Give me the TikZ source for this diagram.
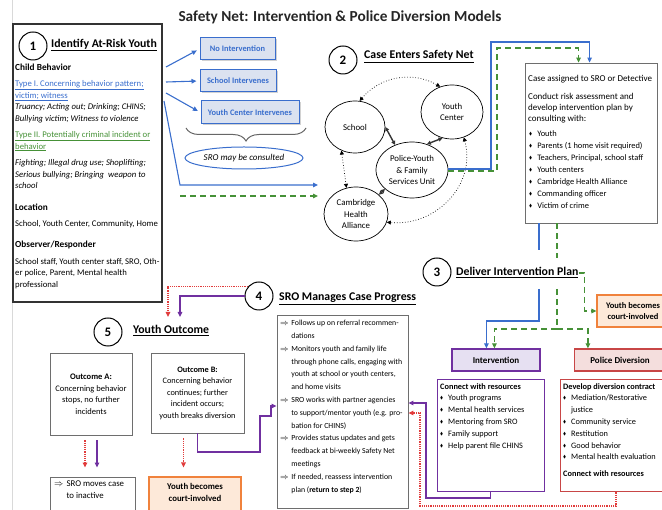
\documentclass[tikz,border=0pt]{standalone}
\usepackage{fontspec}
\setmainfont{Carlito}
\usepackage{amssymb}
\usetikzlibrary{arrows.meta,calc,shapes.geometric,shadows,decorations.pathreplacing}

\definecolor{netblue}{RGB}{58,110,205}
\definecolor{netgreen}{RGB}{70,145,55}
\definecolor{netpurple}{RGB}{112,48,160}
\definecolor{netred}{RGB}{200,70,70}
\definecolor{dotred}{RGB}{225,60,60}
\definecolor{netorange}{RGB}{240,130,60}
\definecolor{peach}{RGB}{253,233,217}
\definecolor{lilac}{RGB}{230,224,242}
\definecolor{rose}{RGB}{244,222,221}
\definecolor{paleblue}{RGB}{219,226,240}
\definecolor{framegray}{RGB}{110,110,110}

\newcommand{\dia}{\raisebox{0.25ex}{\scalebox{0.55}{$\blacklozenge$}}\hspace{0.6em}}
\newcommand{\imp}{$\Rightarrow$\hspace{0.35em}}
\newcommand{\ind}{\hphantom{\imp}}

\tikzset{
  numcirc/.style={circle, draw, line width=1pt, minimum size=28, inner sep=0, font=\fontsize{13}{13}\selectfont\bfseries},
  headline/.style={anchor=west, inner sep=0, font=\fontsize{11.8}{13}\selectfont\bfseries},
  panel/.style={draw=framegray, line width=0.8pt, inner sep=0},
  bodytext/.style={anchor=north west, inner sep=0, align=left},
  choice/.style={draw=netblue, line width=1pt, fill=paleblue, inner sep=0, text=netblue, font=\fontsize{8.4}{9}\selectfont\bfseries,
    drop shadow={shadow xshift=1.5pt, shadow yshift=-1.5pt, fill=black!35}},
  agency/.style={ellipse, draw, line width=0.7pt, inner sep=0, align=center, font=\fontsize{8.8}{11.5}\selectfont},
  tie/.style={{Triangle[length=4pt,width=4pt]}-{Triangle[length=4pt,width=4pt]}, line width=1.4pt, black!80},
  loose/.style={{Triangle[length=4pt,width=4pt]}-{Triangle[length=4pt,width=4pt]}, dotted, line width=0.7pt},
  bluearr/.style={-{Triangle[length=5pt,width=4.5pt]}, netblue, line width=1.1pt},
  greenarr/.style={-{Triangle[length=5pt,width=4.5pt]}, netgreen, line width=1.2pt, dash pattern=on 6pt off 4pt},
  purparr/.style={-{Triangle[length=5pt,width=4.5pt]}, netpurple, line width=1.2pt},
  redarr/.style={-{Triangle[length=5pt,width=4.5pt]}, dotred, line width=1.3pt, dash pattern=on 1.2pt off 1pt},
}

\begin{document}
\begin{tikzpicture}[x=1pt, y=-1pt]
  \useasboundingbox (0,0) rectangle (662,510);
  \draw[black!15] (12,0) -- (12,510);

  \node[font=\fontsize{15.3}{18}\selectfont\bfseries, text=black!85] (title) at (340,17) {Safety Net: Intervention \& Police Diversion Models};

  % step 1: identify
  \node[panel, draw=black!80, line width=1.1pt, minimum width=149, minimum height=278] (box1) at (87.5,163) {};
  \node[numcirc] (n1) at (33,46) {1};
  \node[headline] (h1) at (51,45) {\underline{Identify At-Risk Youth}};
  \node[bodytext, font=\fontsize{8.7}{11.5}\selectfont] (behav) at (15,64) {%
    {\fontsize{9.3}{11.5}\selectfont\textbf{Child Behavior}}\\[4.5pt]
    \textcolor{netblue}{\underline{Type I. Concerning behavior pattern;}}\\
    \textcolor{netblue}{\underline{victim; witness}}\\
    \textit{Truancy; Acting out; Drinking; CHINS;}\\
    \textit{Bullying victim; Witness to violence}\\[5pt]
    \textcolor{netgreen}{\underline{Type II. Potentially criminal incident or}}\\
    \textcolor{netgreen}{\underline{behavior}}\\[5pt]
    \textit{Fighting; Illegal drug use; Shoplifting;}\\
    \textit{Serious bullying; Bringing\ \ weapon to}\\
    \textit{school}\\[10pt]
    {\fontsize{9.3}{11.5}\selectfont\textbf{Location}}\\[5pt]
    School, Youth Center, Community, Home\\[9.5pt]
    {\fontsize{9.3}{11.5}\selectfont\textbf{Observer/Responder}}\\[5pt]
    School staff, Youth center staff, SRO, Oth-\\
    er police, Parent, Mental health\\
    professional};

  \node[choice, minimum width=75, minimum height=22] (none) at (237.5,49) {No Intervention};
  \node[choice, minimum width=76, minimum height=22] (school) at (238,81) {School Intervenes};
  \node[choice, minimum width=98, minimum height=23] (ycenter) at (250,112.5) {Youth Center Intervenes};
  \coordinate (o1) at (166,67);
  \coordinate (o2) at (166,82);
  \coordinate (o3) at (166,93);
  \draw[bluearr, shorten >=3] (o1) -- (none.west);
  \draw[bluearr, shorten >=3] (o2) -- (school.west);
  \draw[bluearr, shorten >=3] (o3) -- (ycenter.west);
  \draw[black!60, line width=1pt, decorate, decoration={brace, amplitude=13, mirror}] (186,128) -- (306,128);
  \node[ellipse, draw=netblue, line width=1pt, minimum width=118, minimum height=22, inner sep=0, font=\fontsize{9}{10}\selectfont\itshape] (consult) at (244,158) {SRO may be consulted};

  \coordinate (o4) at (164,101);
  \coordinate (netin) at (318,185);
  \coordinate (o5) at (180,196);
  \coordinate (netin2) at (318,196);
  \draw[bluearr] (o4) -- (180,185) -- (netin);
  \draw[greenarr] (o5) -- (netin2);

  % step 2: safety net
  \node[numcirc] (n2) at (343,60) {2};
  \node[headline] (h2) at (364,57) {\underline{Case Enters Safety Net}};
  \node[agency, minimum width=60, minimum height=52] (sch) at (355,127) {School};
  \node[agency, minimum width=62, minimum height=54] (yc) at (452,112) {Youth\\Center};
  \node[agency, minimum width=72, minimum height=56] (pyf) at (412,170) {Police-Youth\\\& Family\\Services Unit};
  \node[agency, minimum width=64, minimum height=54] (cha) at (356,214) {Cambridge\\Health\\Alliance};
  \draw[tie] (sch.0) -- (pyf.124);
  \draw[tie] (yc.250) -- (pyf.60);
  \draw[tie] (pyf.215) -- (cha.40);
  \draw[loose] (sch.80) to[bend left=40] (yc.115);
  \draw[loose] (sch.240) -- (cha.110);
  \draw[loose] (yc.295) to[out=-75, in=-5, looseness=1.1] (cha.-15);

  \node[panel, minimum width=132, minimum height=160] (casebox) at (591,143) {};
  \node[bodytext, font=\fontsize{9}{11}\selectfont] (assign) at (528,75) {%
    Case assigned to SRO or Detective\\[7pt]
    Conduct risk assessment and\\
    develop intervention plan by\\
    consulting with:};
  \node[bodytext, font=\fontsize{8.4}{12}\selectfont] (consultees) at (529,130) {%
    \dia Youth\\
    \dia Parents (1 home visit required)\\
    \dia Teachers, Principal, school staff\\
    \dia Youth centers\\
    \dia Cambridge Health Alliance\\
    \dia Commanding officer\\
    \dia Victim of crime};
  \draw[greenarr] ([yshift=-1]pyf.east) -| (497,48) -| ($(casebox.north west)+(54,0)$);
  \draw[bluearr] ([yshift=1]pyf.east) -| (491,42) -| ($(casebox.north west)+(65,0)$);

  % step 3: deliver
  \node[numcirc] (n3) at (437,272) {3};
  \node[headline] (h3) at (456,273) {\underline{Deliver Intervention Plan}};
  \coordinate (b3a) at (539,250);
  \coordinate (b3b) at (539,289);
  \coordinate (g3a) at (557,258);
  \coordinate (g3b) at (557,289);
  \coordinate (gsplit) at (557,329);
  \draw[netblue, line width=1.1pt] (casebox.south -| b3a) -- (b3a);
  \draw[netgreen, line width=1.2pt, dash pattern=on 6pt off 4pt] (casebox.south -| g3a) -- (g3a);

  \node[draw=netorange, line width=1.2pt, fill=peach, minimum width=72, minimum height=32, align=center, font=\fontsize{8.5}{10.5}\selectfont\bfseries] (court) at (633,311) {Youth becomes\\court-involved};
  \draw[greenarr] (h3.east) -- ++(6,0) |- (court.west);

  \node[draw=netpurple, line width=1.2pt, fill=lilac, minimum width=88, minimum height=22, font=\fontsize{9}{10}\selectfont\bfseries] (intv) at (496,360) {Intervention};
  \node[draw=netred, line width=1.2pt, fill=rose, minimum width=91, minimum height=22, font=\fontsize{9}{10}\selectfont\bfseries] (pdiv) at (620,360) {Police Diversion};
  \draw[bluearr] (b3b) -- (539,321) -| ($(intv.north west)+(35,0)$);
  \draw[netgreen, line width=1.2pt, dash pattern=on 6pt off 4pt] (g3b) -- (gsplit);
  \draw[greenarr] (gsplit) -| ($(intv.north west)+(43,0)$);
  \draw[greenarr] (gsplit) -| ($(pdiv.north west)+(14,0)$);

  \node[draw=netpurple, line width=1pt, minimum width=107, minimum height=112] (intvd) at (490.5,436) {};
  \node[draw=netred, line width=1pt, minimum width=106, minimum height=112] (pdivd) at (613,436) {};
  \node[bodytext, font=\fontsize{8.3}{11.8}\selectfont] (resources) at (440,383) {%
    \textbf{Connect with resources}\\
    \dia Youth programs\\
    \dia Mental health services\\
    \dia Mentoring from SRO\\
    \dia Family support\\
    \dia Help parent file CHINS};
  \node[bodytext, font=\fontsize{8.3}{11.8}\selectfont] (contract) at (563,383) {%
    \textbf{Develop diversion contract}\\
    \dia Mediation/Restorative\\
    \hphantom{\dia}justice\\
    \dia Community service\\
    \dia Restitution\\
    \dia Good behavior\\
    \dia Mental health evaluation\\[5pt]
    \textbf{Connect with resources}};

  % step 4: manage
  \node[numcirc] (n4) at (259,296) {4};
  \node[headline] (h4) at (279,299) {\underline{SRO Manages Case Progress}};
  \node[panel, minimum width=131, minimum height=193] (sro) at (342.5,411.5) {};
  \node[bodytext, font=\fontsize{7.8}{12.8}\selectfont] (tasks) at (280,320) {%
    \imp Follows up on referral recommen-\\
    \ind dations\\
    \imp Monitors youth and family life\\
    \ind through phone calls, engaging with\\
    \ind youth at school or youth centers,\\
    \ind and home visits\\
    \imp SRO works with partner agencies\\
    \ind to support/mentor youth (e.g. pro-\\
    \ind bation for CHINS)\\
    \imp Provides status updates and gets\\
    \ind feedback at bi-weekly Safety Net\\
    \ind meetings\\
    \imp If needed, reassess intervention\\
    \ind plan (\textbf{return to step 2})};
  \draw[purparr] (intvd.south) |- (426,498) |- ([yshift=8.5]sro.east);
  \draw[redarr] ([xshift=3]pdivd.south) |- (420,506) |- ([yshift=-1.5]sro.east);

  % step 5: outcome
  \coordinate (redin) at (168,317);
  \coordinate (purin) at (180,317);
  \draw[redarr] (n4.140) -| (redin);
  \draw[purparr] (n4.west) -| (purin);
  \node[numcirc] (n5) at (108,332) {5};
  \node[headline] (h5) at (133,331) {\underline{Youth Outcome}};
  \node[panel, minimum width=82, minimum height=82, align=center, font=\fontsize{8.5}{11.5}\selectfont] (outA) at (91,394) {\textbf{Outcome A:}\\Concerning behavior\\stops, no further\\incidents};
  \node[panel, minimum width=93, minimum height=80, align=center, font=\fontsize{8.3}{11.5}\selectfont] (outB) at (197.5,393) {\textbf{Outcome B:}\\Concerning behavior\\continues; further\\incident occurs;\\youth breaks diversion};
  \node[panel, minimum width=85, minimum height=38] (inactive) at (92.5,496) {};
  \node[bodytext, font=\fontsize{8.8}{12}\selectfont] (inactivetext) at (54,481) {\imp SRO moves case\\\ind to inactive};
  \node[draw=netorange, line width=1.2pt, fill=peach, minimum width=92, minimum height=38, text depth=8, align=center, font=\fontsize{8.8}{12}\selectfont\bfseries] (court2) at (195,496) {Youth becomes\\court-involved};
  \draw[redarr, shorten <=5, shorten >=9] ([xshift=-6]outA.south) -- ([xshift=-6]outA.south |- inactive.north);
  \draw[purparr, shorten <=5, shorten >=9] ([xshift=6]outA.south) -- ([xshift=6]outA.south |- inactive.north);
  \draw[redarr, shorten <=5, shorten >=9] ([xshift=-14]outB.south) -- ([xshift=-14]outB.south |- court2.north);
  \draw[purparr] (outB.south) |- (260,452) |- (271,416) |- ([yshift=5.5]sro.west);
\end{tikzpicture}
\end{document}
